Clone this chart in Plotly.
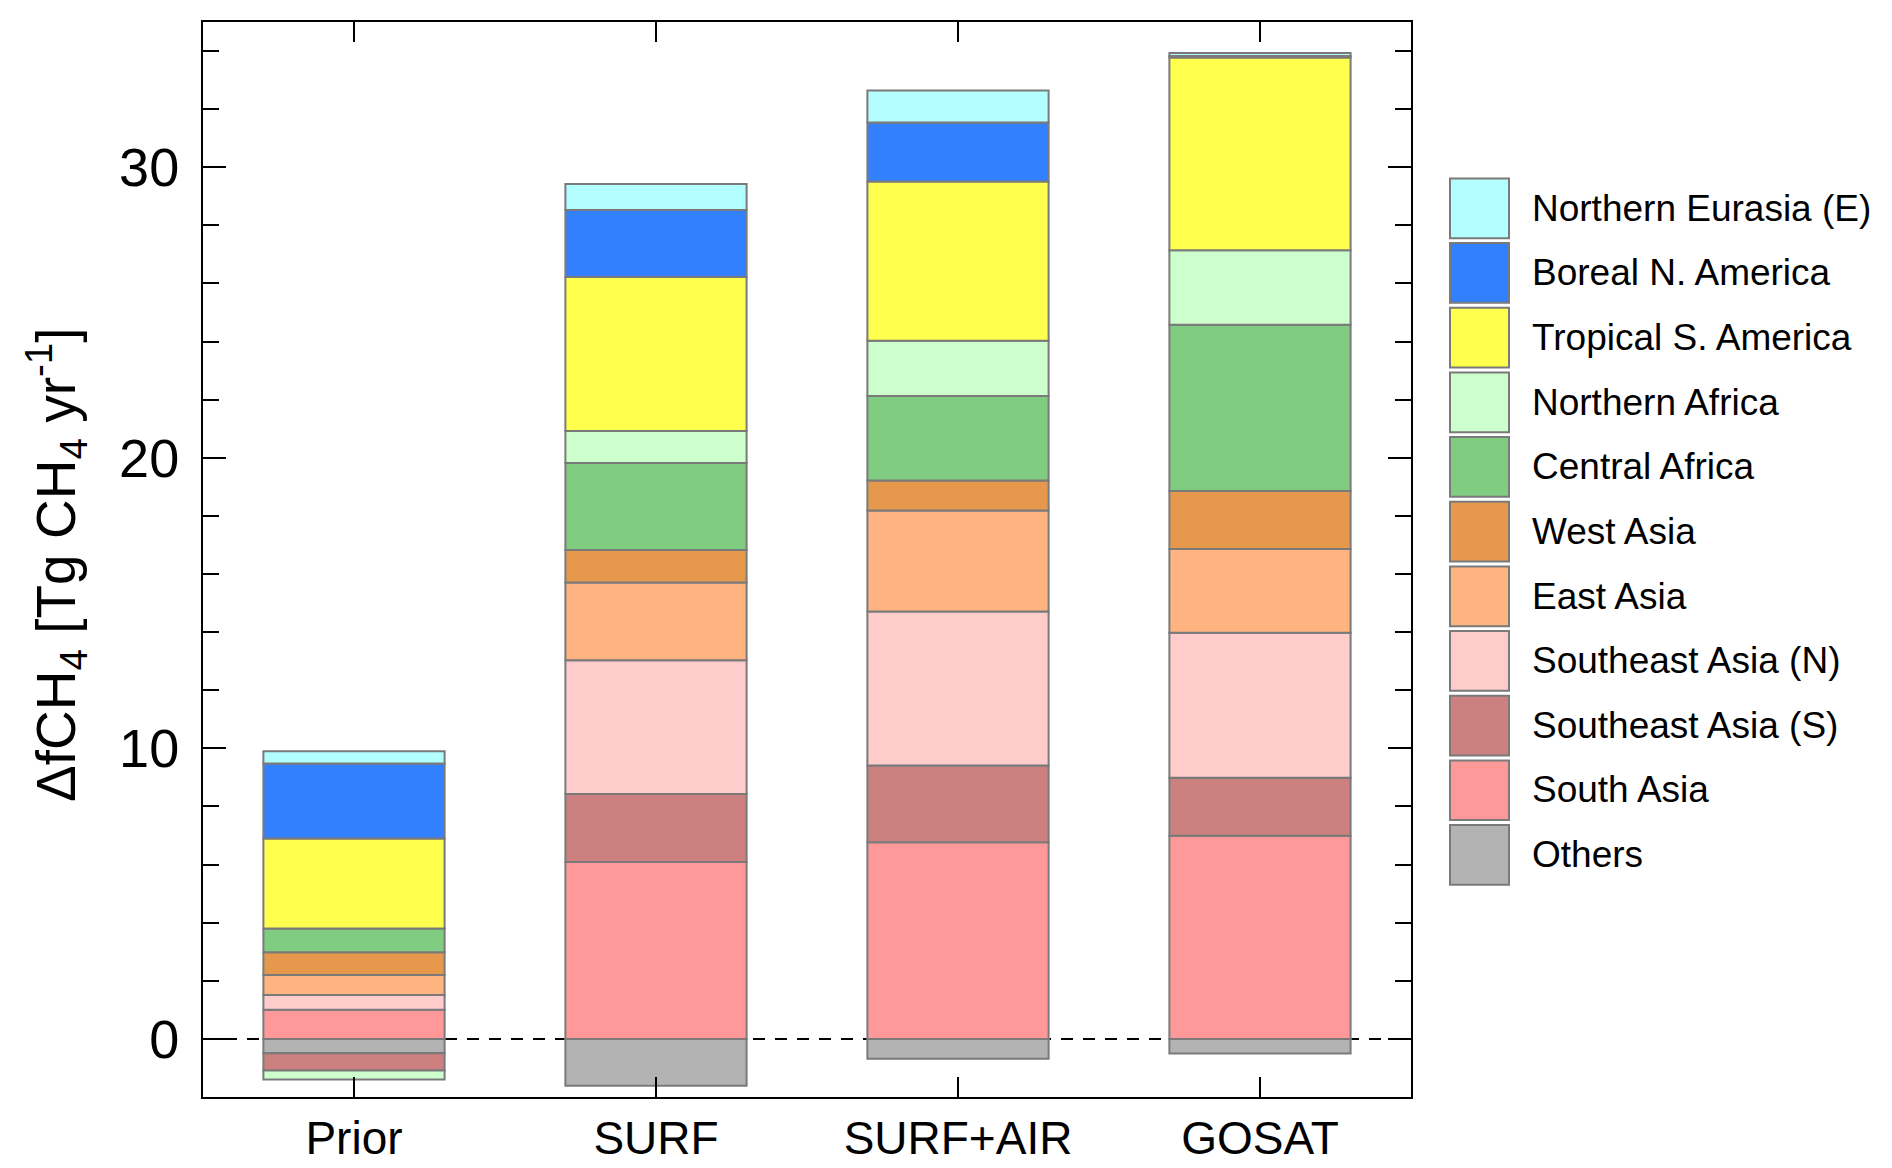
import plotly.graph_objects as go

# inversions shown on the x axis
cases = ['Prior', 'SURF', 'SURF+AIR', 'GOSAT']

# regions, bottom of the stack first
regions = ['Others', 'South Asia', 'Southeast Asia (S)', 'Southeast Asia (N)',
           'East Asia', 'West Asia', 'Central Africa', 'Northern Africa',
           'Tropical S. America', 'Boreal N. America', 'Northern Eurasia (E)']

colors = ['#B3B3B3', '#FF9999', '#CC8080', '#FFCCCC', '#FFB380', '#E6994D',
          '#80CC80', '#CCFFCC', '#FFFF4D', '#3380FF', '#B3FFFF']

# Tg CH4 / yr per region, one value per case (Prior, SURF, SURF+AIR, GOSAT)
others = [-0.49, -1.61, -0.68, -0.50]
south_asia = [1.00, 6.09, 6.77, 6.99]
se_asia_s = [-0.60, 2.34, 2.64, 2.00]
se_asia_n = [0.51, 4.60, 5.30, 4.99]
east_asia = [0.69, 2.68, 3.48, 2.88]
west_asia = [0.78, 1.12, 1.03, 2.00]
central_africa = [0.82, 2.99, 2.91, 5.72]
northern_africa = [-0.31, 1.10, 1.90, 2.56]
tropical_sa = [3.10, 5.30, 5.48, 6.64]
boreal_na = [2.58, 2.31, 2.03, 0.05]
northern_eurasia = [0.42, 0.89, 1.10, 0.10]

series = [others, south_asia, se_asia_s, se_asia_n, east_asia, west_asia,
          central_africa, northern_africa, tropical_sa, boreal_na, northern_eurasia]

FONT = 'Liberation Sans, Arial, Helvetica, sans-serif'
W, H = 1892, 1168
L, R, T, B = 195, 489, 13, 66
PW, PH = W - L - R, H - T - B


def px_x(x):
    return (x - L) / PW


def px_y(y):
    return (H - B - y) / PH


fig = go.Figure()
for name, vals, col in zip(regions, series, colors):
    fig.add_trace(go.Bar(x=cases, y=vals, name=name, width=0.6,
                         marker=dict(color=col, line=dict(color='#7a7a7a', width=2))))

# dashed zero line behind the bars
fig.add_shape(type='line', xref='paper', yref='y', x0=0, x1=1, y0=0, y1=0,
              line=dict(color='black', width=2, dash='12px,10px'), layer='below')

# legend drawn by hand: big boxed swatches, top entry = top of stack
for i, (name, col) in enumerate(zip(regions[::-1], colors[::-1])):
    top = 171.5 + i * 65.5
    fig.add_shape(type='rect', xref='paper', yref='paper',
                  x0=px_x(1442), x1=px_x(1501), y0=px_y(top + 60.5), y1=px_y(top),
                  fillcolor=col, line=dict(color='#7a7a7a', width=2))
    fig.add_annotation(xref='paper', yref='paper', x=px_x(1522), y=px_y(top + 30),
                       text=name, showarrow=False, xanchor='left', yanchor='middle',
                       font=dict(family=FONT, size=37, color='black'))

fig.add_annotation(xref='paper', yref='paper', x=px_x(48), y=px_y(563),
                   text='ΔfCH<sub>4</sub> [Tg CH<sub>4</sub> yr<sup>-1</sup>]',
                   textangle=-90, showarrow=False, xanchor='center', yanchor='middle',
                   font=dict(family=FONT, size=55, color='black'))

fig.update_layout(
    width=W, height=H,
    margin=dict(l=L, r=R, t=T, b=B),
    barmode='relative',
    showlegend=False,
    plot_bgcolor='white', paper_bgcolor='white',
    font=dict(family=FONT, color='black'),
)
fig.update_xaxes(range=[-0.5, 3.5], showline=True, linecolor='black', linewidth=2,
                 mirror='allticks', ticks='inside', ticklen=20, tickwidth=2,
                 tickcolor='black', showgrid=False, ticklabelstandoff=0,
                 tickfont=dict(family=FONT, size=46))
fig.update_yaxes(range=[-2, 35], tickvals=[0, 10, 20, 30], showline=True,
                 linecolor='black', linewidth=2, mirror='allticks', ticks='inside',
                 ticklen=23, tickwidth=2, tickcolor='black', showgrid=False,
                 zeroline=False, ticklabelstandoff=11,
                 minor=dict(dtick=2, ticks='inside', ticklen=16, tickwidth=2,
                            tickcolor='black', showgrid=False),
                 tickfont=dict(family=FONT, size=54))

fig.write_html('out.html')
